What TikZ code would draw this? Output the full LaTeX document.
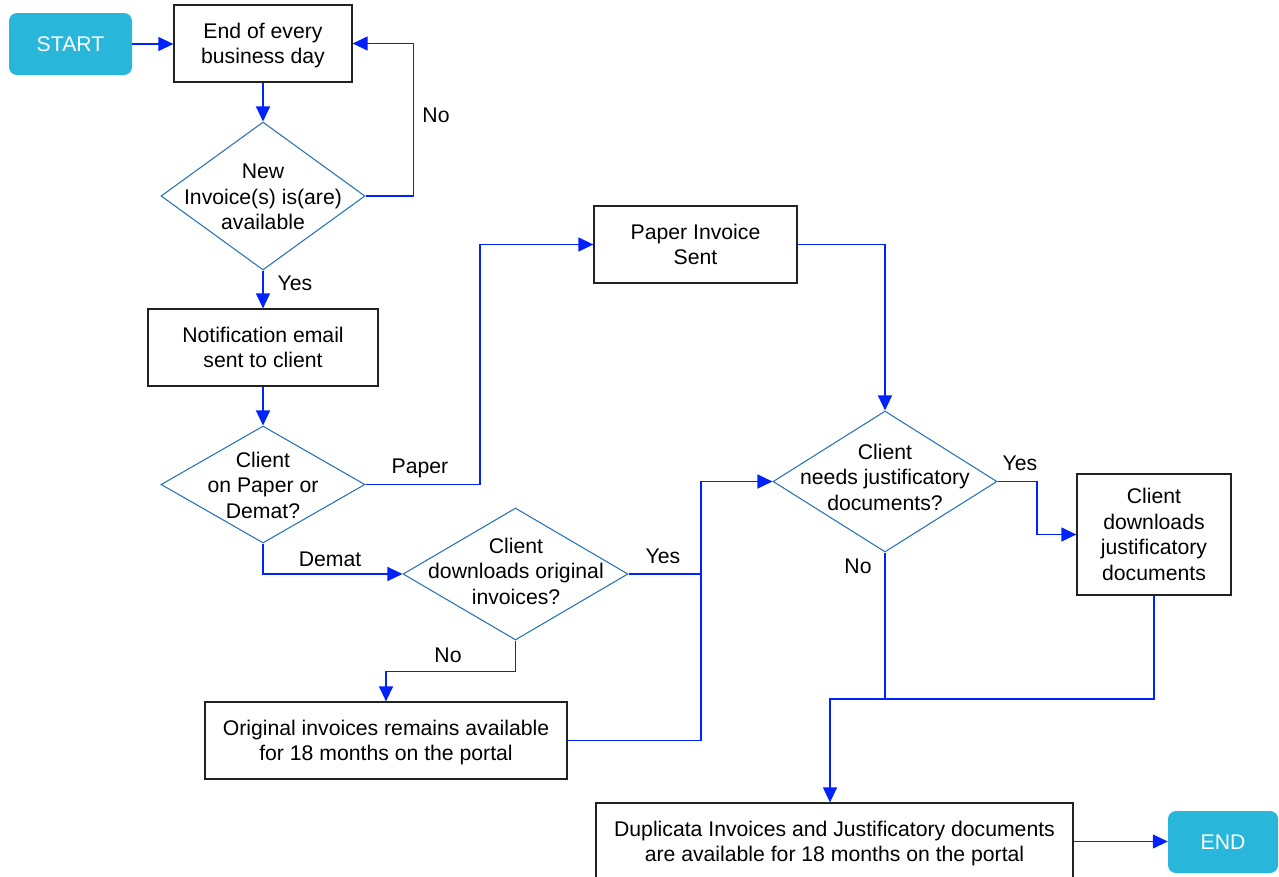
\documentclass[tikz,border=0pt]{standalone}
\usepackage{fontspec}
\setmainfont{Liberation Sans}
\usetikzlibrary{shapes.geometric,arrows.meta}
\definecolor{connblue}{RGB}{0,34,255}
\definecolor{termfill}{RGB}{41,182,219}
\definecolor{diaborder}{RGB}{46,117,182}
\definecolor{boxborder}{RGB}{34,34,34}
\tikzset{
 procbox/.style={draw=boxborder, line width=1.3pt, align=center, inner sep=0pt, text depth=0pt},
 dia/.style={diamond, draw=diaborder, line width=1.1pt, inner sep=0pt},
 term/.style={fill=termfill, rounded corners=8pt, text=white, inner sep=0pt},
 arr/.style={draw=connblue, line width=1.3pt, -{Triangle[length=15pt,width=14pt]}},
 plain/.style={draw=connblue, line width=1.3pt},
 lbl/.style={inner sep=0pt},
 txt/.style={align=center, inner sep=0pt, text depth=0pt}
}
\begin{document}
\begin{tikzpicture}[x=1pt,y=-1pt, font=\fontsize{21.2}{25.5}\selectfont]
\useasboundingbox (0,0) rectangle (1279,876);
\node[term, minimum width=123pt, minimum height=62pt] (start) at (70.5,44) {START};
\node[procbox, minimum width=178pt, minimum height=77pt] (b1) at (263,43.5) {End of every\\business day};
\node[dia, minimum width=204pt, minimum height=148pt] (d1) at (263,196) {};
\node[txt] (t1) at (263,197) {New\\Invoice(s) is(are)\\available};
\node[procbox, minimum width=230pt, minimum height=77pt] (b2) at (263,347.5) {Notification email\\sent to client};
\node[dia, minimum width=204pt, minimum height=117pt] (d2) at (263,484.5) {};
\node[txt] (t2) at (263,485) {Client\\on Paper or\\Demat?};
\node[procbox, minimum width=203pt, minimum height=77pt] (b3) at (695.5,244.5) {Paper Invoice\\Sent};
\node[dia, minimum width=225pt, minimum height=132pt] (d3) at (515.5,574) {};
\node[txt] (t3) at (516,571) {Client\\downloads original\\invoices?};
\node[procbox, minimum width=362pt, minimum height=77pt] (b4) at (386,740.5) {Original invoices remains available\\for 18 months on the portal};
\node[dia, minimum width=224pt, minimum height=141pt] (d4) at (885,481.5) {};
\node[txt] (t4) at (885,477) {Client\\needs justificatory\\documents?};
\node[procbox, minimum width=154pt, minimum height=121pt] (b5) at (1154,534.5) {Client\\downloads\\justificatory\\documents};
\node[procbox, minimum width=477pt, minimum height=77pt] (b6) at (834.5,841.5) {Duplicata Invoices and Justificatory documents\\are available for 18 months on the portal};
\node[term, minimum width=110pt, minimum height=62pt] (end) at (1223,842) {END};

\coordinate (j1) at (701,574);
\coordinate (j2) at (885,699);
\coordinate (j3) at (830,699);

\draw[arr] (start.east) -- (start.east -| b1.west);
\draw[arr] (b1) -- (d1);
\draw[arr] (d1.east) -- ++(48,0) |- (b1.east);
\node[lbl] (lno1) at (436,115) {No};
\draw[arr] (d1) -- (b2);
\node[lbl] (lyes1) at (295,283) {Yes};
\draw[arr] (b2) -- (d2);
\draw[arr] (d2.east) -- (480,484.5) |- (b3.west);
\node[lbl] (lpaper) at (420,468) {Paper};
\draw[arr] (d2.south) |- (d3.west);
\node[lbl] (ldemat) at (330,559) {Demat};
\draw[arr] (d3.south) -- ++(0,31) -| (b4.north);
\node[lbl] (lno2) at (448,655) {No};
\draw[arr] (d3.east) -- (j1) |- (d4.west);
\node[lbl] (lyes2) at (663,556) {Yes};
\draw[plain] (b4.east) -| (j1);
\draw[arr] (b3.east) -| (d4.north);
\draw[arr] (d4.east) -- (1037,481.5) |- (b5.west);
\node[lbl] (lyes3) at (1020,463) {Yes};
\draw[plain] (d4.south) -- (j2);
\node[lbl] (lno3) at (858,566) {No};
\draw[arr] (b5.south) |- (j3) -- (j3 |- b6.north);
\draw[arr] (b6.east) -- (b6.east -| end.west);
\end{tikzpicture}
\end{document}
